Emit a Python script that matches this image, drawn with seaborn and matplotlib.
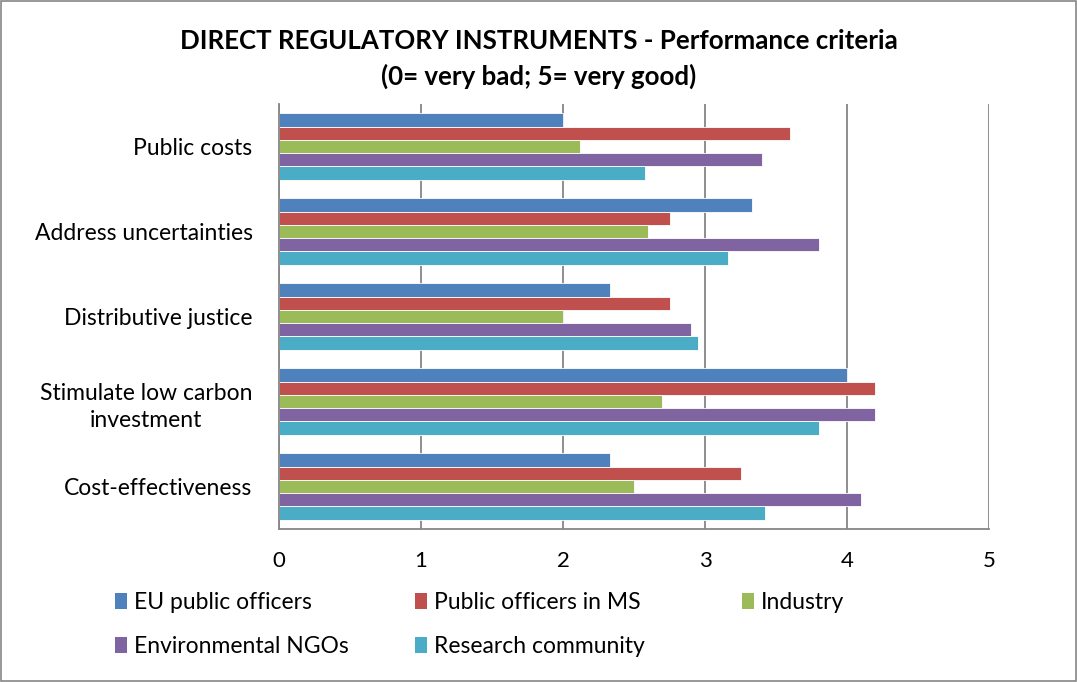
import numpy as np
import pandas as pd
import seaborn as sns
import matplotlib.pyplot as plt
from matplotlib.patches import Rectangle, Patch

criteria = ['Public costs', 'Address uncertainties', 'Distributive justice',
            'Stimulate low carbon\ninvestment', 'Cost-effectiveness']
groups = ['EU public officers', 'Public officers in MS', 'Industry',
          'Environmental NGOs', 'Research community']
colors = ['#4F81BD', '#C0504D', '#9BBB59', '#8064A2', '#4BACC6']

# scores per group, in the order of criteria
eu_officers = [2.00, 3.33, 2.33, 4.00, 2.33]
ms_officers = [3.60, 2.75, 2.75, 4.20, 3.25]
industry = [2.12, 2.60, 2.00, 2.70, 2.50]
ngos = [3.40, 3.80, 2.90, 4.20, 4.10]
research = [2.58, 3.16, 2.95, 3.80, 3.42]

values = [eu_officers, ms_officers, industry, ngos, research]
rows = []
for g, vals in zip(groups, values):
    for c, v in zip(criteria, vals):
        rows.append({'criterion': c, 'group': g, 'score': v})
df = pd.DataFrame(rows)

sns.set_style('white')
plt.rcParams['font.family'] = ['Lato', 'DejaVu Sans']
plt.rcParams['text.color'] = 'black'
plt.rcParams['xtick.labelcolor'] = 'black'
plt.rcParams['ytick.labelcolor'] = 'black'

fig = plt.figure(figsize=(10.77, 6.82), dpi=100)
ax = fig.add_axes([279 / 1077, 1 - 529 / 682, 710 / 1077, 425 / 682])

sns.barplot(data=df, y='criterion', x='score', hue='group', order=criteria,
            hue_order=groups, palette=colors, orient='h', width=0.78,
            edgecolor='white', linewidth=0.6, saturation=1, ax=ax, legend=False)

ax.set_xlim(0, 5)
ax.set_ylim(len(criteria) - 0.5, -0.5)
ax.set_xticks(range(6))
ax.set_xticklabels([str(i) for i in range(6)], fontsize=16)
ax.tick_params(axis='x', length=5, width=1.2, color='#868686', pad=11)
ax.set_yticks(range(len(criteria)))
ax.set_yticklabels(criteria, fontsize=16.5, ha='right', multialignment='center',
                   linespacing=1.4)
ax.tick_params(axis='y', which='major', length=0, pad=19)
ax.set_yticks(np.arange(-0.5, len(criteria)), minor=True)
ax.tick_params(axis='y', which='minor', length=6, color='#868686', width=1.2)
ax.set_xlabel('')
ax.set_ylabel('')
ax.grid(axis='x', color='#868686', linewidth=1.3)
ax.set_axisbelow(True)
for side in ['top', 'right']:
    ax.spines[side].set_visible(False)
for side in ['left', 'bottom']:
    ax.spines[side].set_color('#868686')
    ax.spines[side].set_linewidth(1.3)

fig.text(0.5, 1 - 41 / 682, 'DIRECT REGULATORY INSTRUMENTS - Performance criteria',
         ha='center', va='center', fontsize=18.6, fontweight='bold')
fig.text(0.5, 1 - 76 / 682, '(0= very bad; 5= very good)',
         ha='center', va='center', fontsize=18.6, fontweight='bold')

# legend laid out in three columns like the original
columns = [[0, 3], [1, 4], [2]]
col_x = [106, 406, 733]
for idx, x in zip(columns, col_x):
    handles = [Patch(facecolor=colors[i], edgecolor='none') for i in idx]
    labels = [groups[i] for i in idx]
    fig.legend(handles, labels, loc='upper left', bbox_to_anchor=(x / 1077, 1 - 583 / 682),
               frameon=False, fontsize=16.5, handlelength=0.5, handleheight=0.65,
               handletextpad=0.3, labelspacing=1.0, borderaxespad=0)

fig.patches.append(Rectangle((0.001, 0.001), 0.998, 0.997, transform=fig.transFigure,
                             fill=False, edgecolor='#868686', linewidth=1.2))

fig.savefig('out.png', dpi=100)
